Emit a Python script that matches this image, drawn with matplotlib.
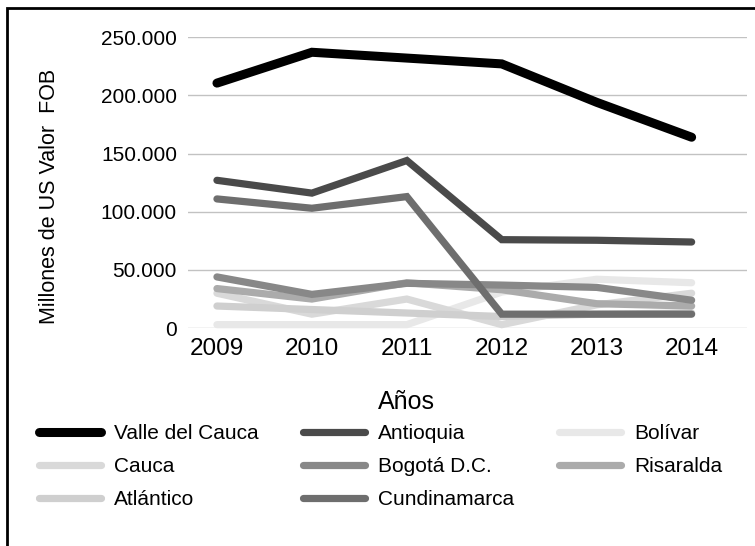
import matplotlib
matplotlib.use('Agg')
import matplotlib.pyplot as plt
from matplotlib.patches import Rectangle
from matplotlib.ticker import FuncFormatter

years = ['2009', '2010', '2011', '2012', '2013', '2014']

valle = [210500, 237000, 232000, 227000, 194000, 164000]
antioquia = [127000, 116000, 144000, 76000, 75500, 74000]
bolivar = [3000, 3000, 3000, 31000, 42000, 39000]
cauca = [30000, 12000, 25000, 3000, 20000, 30000]
bogota = [44000, 29000, 38500, 37000, 35000, 24000]
risaralda = [34000, 25000, 39000, 33000, 21000, 19000]
atlantico = [19000, 16000, 13000, 10000, 12000, 13000]
cundinamarca = [111000, 103000, 113000, 12000, 12000, 12000]

series = [
    ('Valle del Cauca', valle, '#000000', 6.5),
    ('Antioquia', antioquia, '#4a4a4a', 5.2),
    ('Bolívar', bolivar, '#e8e8e8', 5.2),
    ('Cauca', cauca, '#d9d9d9', 5.2),
    ('Bogotá D.C.', bogota, '#888888', 5.2),
    ('Risaralda', risaralda, '#ababab', 5.2),
    ('Atlántico', atlantico, '#cfcfcf', 5.2),
    ('Cundinamarca', cundinamarca, '#6e6e6e', 5.2),
]

plt.rcParams['font.family'] = ['Liberation Sans', 'DejaVu Sans']

fig = plt.figure(figsize=(7.55, 5.46), dpi=100)
ax = fig.add_axes([0.249, 0.399, 0.740, 0.533])

x = list(range(len(years)))
handles = {}
# light lines first so the dark ones sit on top
draw_order = ['Bolívar', 'Cauca', 'Atlántico', 'Risaralda', 'Bogotá D.C.',
              'Cundinamarca', 'Antioquia', 'Valle del Cauca']
lookup = {s[0]: s for s in series}
for name in draw_order:
    _, vals, col, lw = lookup[name]
    ln, = ax.plot(x, vals, color=col, lw=lw, solid_capstyle='round',
                  solid_joinstyle='miter', clip_on=False, label=name)
    handles[name] = ln

ax.set_ylim(0, 250000)
ax.set_xlim(-0.305, 5.58)
ax.set_yticks(range(0, 250001, 50000))
ax.yaxis.set_major_formatter(FuncFormatter(
    lambda v, p: '0' if v == 0 else f'{int(v):,}'.replace(',', '.')))
ax.set_xticks(x)
ax.set_xticklabels(years)
ax.grid(axis='y', color='#c2c2c2', lw=1)
ax.set_axisbelow(True)
for s in ax.spines.values():
    s.set_visible(False)
ax.tick_params(axis='both', length=0)
ax.tick_params(axis='y', labelsize=15, pad=8)
ax.tick_params(axis='x', labelsize=17.5, pad=7)

fig.text(0.066, 0.641, 'Millones de US Valor  FOB', rotation=90,
         ha='center', va='center', fontsize=15.5)
fig.text(0.538, 0.264, 'Años', ha='center', va='center', fontsize=18)

# the original legend fills row by row: reorder for column-wise filling
leg_order = ['Valle del Cauca', 'Cauca', 'Atlántico',
             'Antioquia', 'Bogotá D.C.', 'Cundinamarca',
             'Bolívar', 'Risaralda']
fig.legend([handles[n] for n in leg_order], leg_order, ncol=3,
           loc='upper left', bbox_to_anchor=(0.040, 0.238), frameon=False,
           fontsize=15, handlelength=3.0, handletextpad=0.6,
           columnspacing=2.15, labelspacing=0.66, borderaxespad=0)

fig.add_artist(Rectangle((0.009, -0.1), 1.1, 1.085, transform=fig.transFigure,
                         fill=False, edgecolor='black', lw=2))

fig.savefig('out.png', dpi=100)
